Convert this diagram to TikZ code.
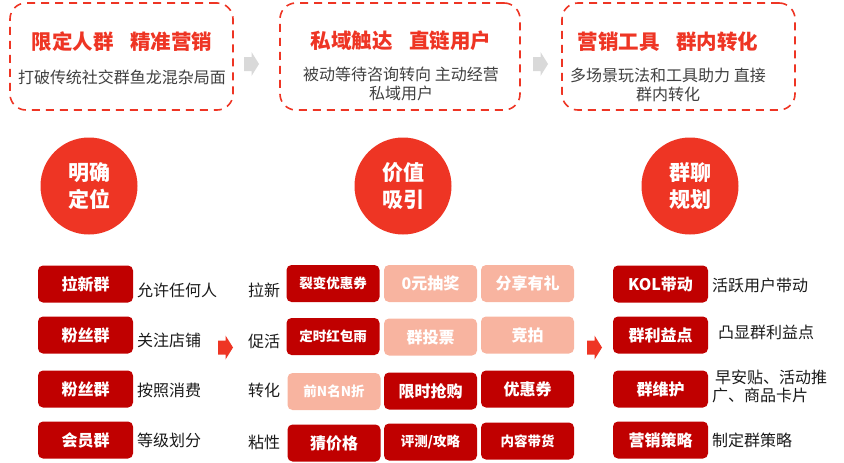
\documentclass[tikz,border=0pt]{standalone}
\usepackage{fontspec}
\setmainfont{Noto Sans CJK SC}
\usetikzlibrary{positioning}
\definecolor{qlRed}{HTML}{EE3524}
\definecolor{qlDeep}{HTML}{C00000}
\definecolor{qlPink}{HTML}{F8B4A0}
\definecolor{qlGray}{HTML}{D9D9D9}
\definecolor{qlInk}{HTML}{1A1A1A}
\definecolor{qlNote}{HTML}{404040}
\tikzset{
 board/.style={x=1pt,y=-1pt,line join=round,text=qlInk},
 topbox/.style={draw=qlRed,line width=1.6pt,dash pattern=on 8pt off 6pt,rounded corners=16pt,minimum height=107pt},
 toptitle/.style={font=\fontsize{20.5}{24}\selectfont\bfseries,text=qlRed},
 topnote/.style={font=\fontsize{16}{19}\selectfont,text=qlNote,align=center},
 bigdot/.style={circle,fill=qlRed,minimum size=97pt,inner sep=0pt,text=white,
   font=\fontsize{21}{27}\selectfont\bfseries,align=center},
 tag/.style={rectangle,rounded corners=5pt,fill=qlDeep,text=white,minimum width=95pt,
   minimum height=37pt,inner sep=0pt,font=\fontsize{16}{18}\selectfont\bfseries},
 tagsoft/.style={tag,fill=qlPink},
 tagmid/.style={minimum width=93pt},
 tagsmall/.style={font=\fontsize{13.5}{16}\selectfont\bfseries},
 tagnote/.style={anchor=west,font=\fontsize{16}{18}\selectfont,inner sep=0pt,align=left}
}
\newcommand{\flatArrow}[3]{%
 \fill[#3,shift={(#1,#2)}] (-7.5,-7)--(0,-7)--(0,-12)--(7.5,0)--(0,12)--(0,7)--(-7.5,7)--cycle;}

\begin{document}
\begin{tikzpicture}[board]
 \useasboundingbox (0,0) rectangle (844,463);
 \node[topbox,minimum width=223pt] (g1) at (121.5,56.5) {};
 \node[topbox,minimum width=240pt] (g2) at (400,56.5) {};
 \node[topbox,minimum width=233pt] (g3) at (678.5,56.5) {};
 \node[toptitle] (g1t) at (122,42) {限定人群\hspace{.8em}精准营销};
 \node[toptitle] (g2t) at (401,41) {私域触达\hspace{.8em}直链用户};
 \node[toptitle] (g3t) at (668,42) {营销工具\hspace{.8em}群内转化};
 \node[topnote] (g1n) at (122,77) {打破传统社交群鱼龙混杂局面};
 \node[topnote] (g2n) at (401,84) {被动等待咨询转向 主动经营\\私域用户};
 \node[topnote] (g3n) at (668,85) {多场景玩法和工具助力 直接\\群内转化};
 \flatArrow{251.5}{64}{qlGray}
 \flatArrow{540.5}{64}{qlGray}
 \node[bigdot] (c1) at (89,186) {明确\\定位};
 \node[bigdot] (c2) at (403,186) {价值\\吸引};
 \node[bigdot] (c3) at (690,186) {群聊\\规划};
 \node[tag] (l1) at (85.5,284) {拉新群};
 \node[tag] (l2) at (85.5,335) {粉丝群};
 \node[tag] (l3) at (85.5,389) {粉丝群};
 \node[tag] (l4) at (85.5,440) {会员群};
 \node[tagnote] (l1n) at (137,290) {允许任何人};
 \node[tagnote] (l2n) at (137,340) {关注店铺};
 \node[tagnote] (l3n) at (137,390) {按照消费};
 \node[tagnote] (l4n) at (137,440) {等级划分};
 \flatArrow{225.5}{347.5}{qlRed}
 \node[tagnote] (m1) at (248,290) {拉新};
 \node[tagnote] (m2) at (248,341) {促活};
 \node[tagnote] (m3) at (248,390) {转化};
 \node[tagnote] (m4) at (248,442) {粘性};
 \node[tag,tagmid,tagsmall] (a1) at (333,283.5) {裂变优惠券};
 \node[tagsoft,tagmid] (b1) at (430.5,283.5) {0元抽奖};
 \node[tagsoft,tagmid] (d1) at (527.5,283.5) {分享有礼};
 \node[tag,tagmid,tagsmall] (a2) at (333,336.5) {定时红包雨};
 \node[tagsoft,tagmid] (b2) at (430.5,337) {群投票};
 \node[tagsoft,tagmid] (d2) at (527.5,335) {竞拍};
 \node[tagsoft,tagmid,tagsmall] (a3) at (334,391.5) {前N名N折};
 \node[tag,tagmid] (b3) at (430.5,391) {限时抢购};
 \node[tag,tagmid] (d3) at (527.5,389) {优惠券};
 \node[tag,tagmid] (a4) at (334,443) {猜价格};
 \node[tag,tagmid,tagsmall] (b4) at (430.5,442) {评测/攻略};
 \node[tag,tagmid,tagsmall] (d4) at (527.5,441) {内容带货};
 \flatArrow{594.5}{347.5}{qlRed}
 \node[tag] (r1) at (660.5,284) {KOL带动};
 \node[tag] (r2) at (660.5,335) {群利益点};
 \node[tag] (r3) at (660.5,389) {群维护};
 \node[tag] (r4) at (660.5,440) {营销策略};
 \node[tagnote] (r1n) at (712,285) {活跃用户带动};
 \node[tagnote] (r2n) at (718,332) {凸显群利益点};
 \node[tagnote] (r3n) at (712,386) {\hspace{3pt}早安贴、活动推\\广、商品卡片};
 \node[tagnote] (r4n) at (712,440) {制定群策略};
\end{tikzpicture}
\end{document}
